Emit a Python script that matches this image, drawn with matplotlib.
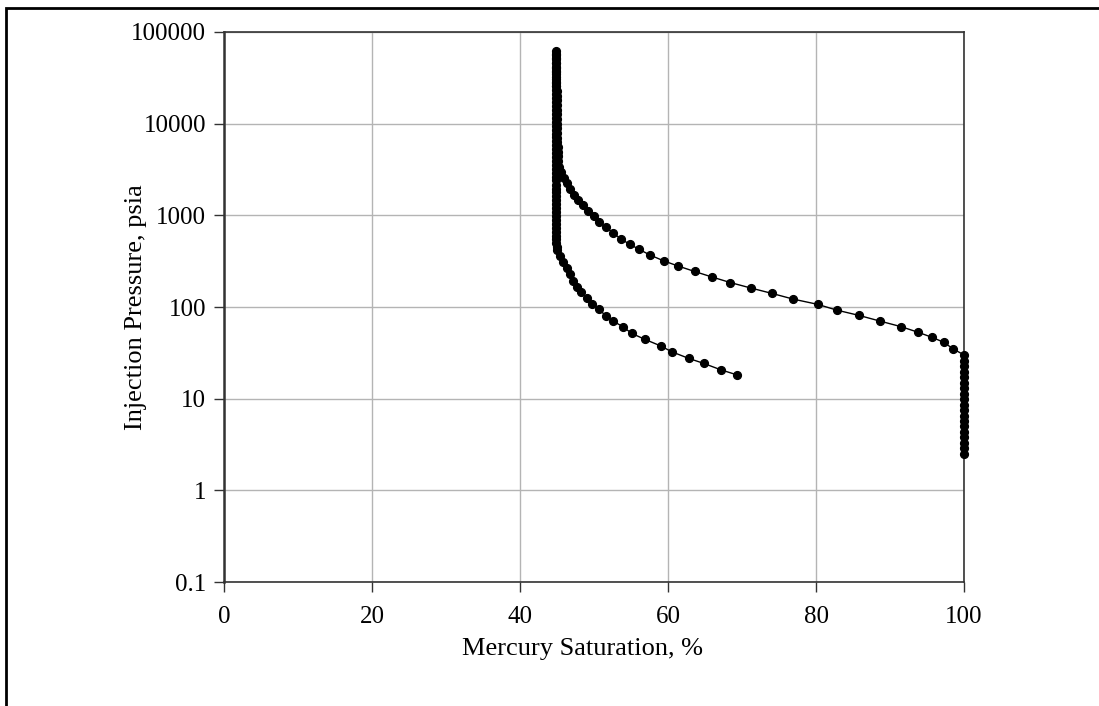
import matplotlib
matplotlib.use("Agg")
import matplotlib.pyplot as plt
from matplotlib.patches import Rectangle

plt.rcParams['font.family'] = ['Liberation Serif', 'DejaVu Serif']

# Drainage (injection) curve: Hg saturation %, pressure psia
inj_sat = [100, 100, 100, 100, 100, 100, 100, 100, 100, 100, 100, 100, 100, 100, 100, 100, 100, 100, 100,
           98.5, 97.3, 95.7, 93.8, 91.5, 88.7, 85.8, 82.8, 80.2, 76.9, 74.0, 71.2, 68.4, 65.9, 63.6, 61.3,
           59.4, 57.6, 56.1, 54.8, 53.6, 52.6, 51.6, 50.7, 50.0, 49.2, 48.5, 47.8, 47.3, 46.8, 46.3, 45.9,
           45.6, 45.3, 45.2, 45.15, 45.1, 45.1, 45.05, 45.05, 45.0, 45.0, 45.0, 45.0, 45.0, 44.95, 44.95,
           44.95, 44.95, 44.95, 44.9, 44.9, 44.9, 44.9, 44.9, 44.9, 44.9, 44.9]
inj_p = [2.5, 2.9, 3.3, 3.8, 4.3, 5.0, 5.7, 6.5, 7.5, 8.6, 9.9, 11.3, 13, 15, 17.2, 19.7, 22.6, 26, 30,
         35, 41.1, 46.6, 53, 61, 70, 81, 92.5, 107, 122, 141, 161, 185, 213, 244, 281,
         319, 368, 425, 485, 554, 644, 738, 849, 973, 1119, 1292, 1465, 1660, 1915, 2228, 2564,
         2958, 3380, 3900, 4400, 4950, 5550, 6250, 7000, 7900, 8900, 10000, 11200, 12600, 14200, 16000,
         18000, 20200, 22700, 25500, 28700, 32300, 36300, 40800, 45900, 51600, 58000]

# Withdrawal curve
wd_sat = [44.8, 44.8, 44.8, 44.8, 44.8, 44.8, 44.8, 44.8, 44.8, 44.8, 44.8, 44.8, 44.8, 44.8, 44.8,
          44.8, 44.8, 44.8, 44.8, 44.8, 44.8, 44.8, 44.8, 44.8, 44.8, 44.8, 44.8, 44.8, 44.8, 44.8,
          44.8, 44.8, 44.8, 44.8, 44.8, 44.8, 44.8, 44.8, 44.8, 44.8, 44.8, 44.8, 44.8, 44.8, 44.85,
          44.85, 44.85, 44.9, 44.9, 44.9, 44.95,
          45.0, 45.4, 45.85, 46.4, 46.8, 47.2, 47.7, 48.3, 49.0, 49.7, 50.7, 51.6, 52.6, 53.9, 55.1,
          56.9, 59.05, 60.5, 62.8, 64.8, 67.1, 69.3]
wd_p = [62000, 56000, 51000, 46000, 42000, 38000, 34500, 31000, 28000, 25500, 23000, 21000, 19000,
        17200, 15600, 14100, 12800, 11600, 10500, 9500, 8600, 7800, 7100, 6400, 5800, 5250, 4750,
        4300, 3900, 3550, 3200, 2900, 2650, 2400, 2150, 1950, 1780, 1610, 1460, 1320, 1200, 1085,
        985, 890, 805, 730, 660, 600, 545, 495, 450,
        417, 361, 311, 264, 227, 193, 166, 144, 124, 109, 94, 80, 70, 61, 51.5,
        44.3, 37.5, 32.5, 27.5, 24.3, 20.7, 18.2]

x_ticks = [0, 20, 40, 60, 80, 100]
y_ticks = [0.1, 1, 10, 100, 1000, 10000, 100000]
y_tick_labels = ['0.1', '1', '10', '100', '1000', '10000', '100000']

fig = plt.figure(figsize=(10.99, 7.06), dpi=100)
ax = fig.add_axes([0.2038, 0.1756, 0.6734, 0.7791])

# figure frame (only top and left visible in the reference)
fig.patches.append(Rectangle((0.0058, -0.2), 1.3, 1.188, transform=fig.transFigure,
                             fill=False, edgecolor='black', linewidth=2.0, clip_on=False))

ax.plot(inj_sat, inj_p, color='black', linewidth=1.0, marker='o', markersize=5.6,
        markerfacecolor='black', markeredgecolor='black', clip_on=False, zorder=3)
ax.plot(wd_sat, wd_p, color='black', linewidth=1.0, marker='o', markersize=5.6,
        markerfacecolor='black', markeredgecolor='black', clip_on=False, zorder=3)

ax.set_yscale('log')
ax.set_xlim(0, 100)
ax.set_ylim(0.1, 100000)
ax.set_xticks(x_ticks)
ax.set_xticklabels([str(v) for v in x_ticks])
ax.set_yticks(y_ticks)
ax.set_yticklabels(y_tick_labels)
ax.minorticks_off()

ax.grid(True, color='#b4b4b4', linewidth=1.0)
ax.set_axisbelow(True)
for side in ['left', 'bottom', 'top', 'right']:
    ax.spines[side].set_color('#333333')
    ax.spines[side].set_linewidth(1.2)
ax.spines['left'].set_linewidth(1.8)

ax.tick_params(axis='both', direction='out', length=7, width=1.0, color='#333333',
               labelsize=18)
ax.tick_params(axis='y', pad=6)
ax.tick_params(axis='x', pad=10)

ax.set_xlabel('Mercury Saturation, %', fontsize=19)
ax.set_ylabel('Injection Pressure, psia', fontsize=19)
ax.xaxis.set_label_coords(0.485, -0.102)
ax.yaxis.set_label_coords(-0.104, 0.5)

fig.savefig('out.png', dpi=100)
